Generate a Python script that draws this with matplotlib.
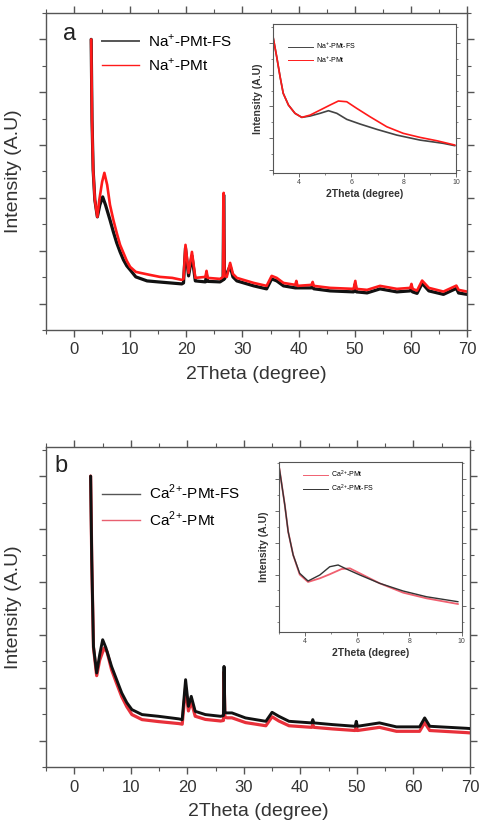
import matplotlib
matplotlib.use("Agg")
import matplotlib.pyplot as plt
from matplotlib.ticker import MultipleLocator, NullFormatter
from matplotlib.lines import Line2D

plt.rcParams['font.family'] = ['Liberation Sans', 'DejaVu Sans']
plt.rcParams['mathtext.fontset'] = 'custom'
plt.rcParams['mathtext.rm'] = 'Liberation Sans'

# ---------------- Panel a (Na+) main ----------------
na_fs_x = [3.05, 3.2, 3.4, 3.7, 4.15, 4.6, 5.1, 5.6, 6.4, 7.0, 7.6, 8.2, 8.8, 9.4, 10.0, 11.0, 13.0, 15.0,
           19.2, 19.5, 19.85, 20.4, 21.0, 21.6, 23.4, 23.6, 23.8, 26.0, 26.55, 26.65, 26.8, 27.8, 28.3, 29.0,
           32.0, 34.3, 35.2, 36.1, 37.3, 39.4, 42.3, 42.5, 42.7, 45.6, 49.8, 50.1, 50.3, 52.2, 54.5, 57.5,
           59.9, 60.1, 60.3, 61.1, 62.0, 63.2, 65.8, 68.1, 68.5, 70.0]
na_fs_y = [6000, 4477, 3530, 2963, 2641, 2868, 3019, 2868, 2584, 2357, 2149, 1978, 1827, 1713, 1637, 1505, 1429, 1410,
           1372, 1391, 2054, 1524, 1902, 1429, 1410, 1543, 1420, 1410, 1448, 3057, 1467, 1713, 1505, 1429,
           1335, 1278, 1467, 1429, 1335, 1297, 1297, 1354, 1280, 1240, 1221, 1372, 1221, 1202, 1278, 1221,
           1240, 1316, 1221, 1193, 1382, 1240, 1174, 1287, 1200, 1174]

na_x = [3.05, 3.2, 3.4, 3.7, 4.15, 4.5, 5.0, 5.4, 5.9, 6.4, 7.0, 7.6, 8.2, 8.8, 9.4, 10.0, 11.0, 11.8, 13.5,
        15.3, 17.5, 19.2, 19.5, 19.85, 20.4, 21.0, 21.6, 23.4, 23.6, 23.8, 26.0, 26.55, 26.65, 26.8, 27.2,
        27.8, 28.3, 29.0, 32.0, 34.3, 35.2, 36.1, 37.3, 39.4, 39.6, 39.8, 42.3, 42.5, 42.7, 45.6, 49.8,
        50.1, 50.3, 52.2, 54.5, 57.5, 59.9, 60.1, 60.3, 61.1, 62.0, 63.2, 65.8, 68.1, 68.5, 70.0]
na_y = [6000, 4477, 3530, 2963, 2641, 2963, 3303, 3474, 3246, 2868, 2584, 2338, 2111, 1959, 1808, 1694, 1600, 1581, 1543,
        1505, 1486, 1448, 1467, 2111, 1581, 1978, 1486, 1505, 1619, 1486, 1467, 1505, 3095, 1524, 1505,
        1770, 1562, 1486, 1391, 1335, 1524, 1486, 1391, 1354, 1429, 1335, 1354, 1410, 1335, 1297, 1278,
        1429, 1278, 1259, 1335, 1278, 1297, 1372, 1278, 1246, 1435, 1297, 1227, 1340, 1259, 1227]

# ---------------- Panel a inset ----------------
na_in_fs_x = [3.0, 3.14, 3.27, 3.39, 3.59, 3.84, 4.1, 4.42, 4.8, 5.12, 5.44, 5.82, 6.33, 6.97, 7.73, 8.62, 9.51, 9.96]
na_in_fs_y = [2079, 1827, 1575, 1366, 1218, 1114, 1063, 1080, 1114, 1147, 1114, 1038, 979, 912, 840, 777, 736, 706]
na_in_x = [3.0, 3.14, 3.27, 3.39, 3.59, 3.84, 4.1, 4.42, 4.8, 5.18, 5.5, 5.82, 6.2, 6.71, 7.35, 7.98, 8.62, 9.26, 9.96]
na_in_y = [2079, 1827, 1575, 1366, 1218, 1114, 1063, 1092, 1155, 1218, 1269, 1260, 1177, 1071, 945, 862, 811, 769, 714]

# ---------------- Panel b (Ca2+) main ----------------
ca_fs_x = [2.9, 3.1, 3.4, 3.97, 4.5, 5.03, 5.6, 6.6, 7.5, 8.4, 9.3, 10.2, 12.0, 14.9, 18.5, 19.1, 19.7, 20.2,
           20.7, 21.4, 23.2, 25.9, 26.4, 26.5, 26.65, 27.05, 27.9, 30.3, 33.9, 35.0, 36.2, 38.0, 42.0, 42.2,
           42.4, 45.7, 49.7, 49.9, 50.1, 54.0, 57.0, 61.1, 62.0, 62.9, 69.4, 70.0]
ca_fs_y = [6000, 4416, 2780, 2278, 2623, 2906, 2755, 2402, 2151, 1900, 1717, 1585, 1491, 1459, 1410, 1396, 2151, 1647,
           1836, 1553, 1491, 1459, 1472, 2402, 1528, 1523, 1523, 1428, 1364, 1534, 1459, 1364, 1334, 1396,
           1334, 1302, 1270, 1364, 1270, 1334, 1259, 1259, 1428, 1270, 1232, 1227]
ca_x = [2.9, 3.1, 3.4, 3.97, 4.5, 5.27, 5.8, 6.6, 7.5, 8.4, 9.3, 10.2, 12.0, 14.9, 18.5, 19.1, 19.7, 20.2,
        20.7, 21.4, 23.2, 25.9, 26.4, 26.5, 26.65, 27.05, 27.9, 30.3, 33.9, 35.0, 36.2, 38.0, 42.0, 42.2,
        42.4, 45.7, 49.7, 49.9, 50.1, 54.0, 57.0, 61.1, 62.0, 62.9, 69.4, 70.0]
ca_y = [6000, 4400, 2760, 2227, 2520, 2749, 2680, 2340, 2080, 1830, 1640, 1491, 1396, 1359, 1321, 1310, 2000, 1560,
        1740, 1460, 1400, 1370, 1380, 2300, 1440, 1430, 1430, 1340, 1280, 1450, 1370, 1280, 1250, 1300,
        1250, 1220, 1190, 1270, 1190, 1250, 1175, 1175, 1340, 1190, 1150, 1145]

# ---------------- Panel b inset ----------------
ca_in_fs_x = [3.02, 3.23, 3.36, 3.55, 3.8, 4.12, 4.57, 4.95, 5.27, 5.59, 6.1, 6.86, 7.76, 8.65, 9.86]
ca_in_fs_y = [2142, 1676, 1339, 1046, 815, 718, 794, 898, 920, 869, 794, 689, 592, 520, 457]
ca_in_x = [3.02, 3.23, 3.36, 3.55, 3.8, 4.12, 4.57, 4.95, 5.4, 5.72, 6.1, 6.86, 7.76, 8.65, 9.86]
ca_in_y = [2142, 1676, 1339, 1046, 800, 706, 752, 803, 869, 878, 815, 689, 571, 500, 428]

x_ticks = [0, 10, 20, 30, 40, 50, 60, 70]
inset_x_ticks = [4, 6, 8, 10]

RED = '#ff1a1a'
BLK = '#111111'
FRAME = '#555555'

fig = plt.figure(figsize=(4.79, 8.31), dpi=100)


def style_main(ax, ylim):
    ax.set_xlim(-5, 70)
    ax.set_ylim(*ylim)
    ax.set_xticks(x_ticks)
    ax.xaxis.set_minor_locator(MultipleLocator(5))
    ax.yaxis.set_major_locator(MultipleLocator(1000))
    ax.yaxis.set_minor_locator(MultipleLocator(500))
    ax.yaxis.set_major_formatter(NullFormatter())
    for s in ax.spines.values():
        s.set_color(FRAME)
        s.set_linewidth(1.0)
    ax.tick_params(axis='both', which='major', direction='out', length=5, width=1, color=FRAME,
                   labelsize=12, labelcolor='#333333', top=True)
    ax.tick_params(axis='both', which='minor', direction='out', length=3, width=0.8, color=FRAME,
                   top=True)
    ax.tick_params(axis='y', which='both', right=True)
    ax.tick_params(axis='x', which='major', pad=4)
    ax.set_xlabel('2Theta (degree)', fontsize=14, color='#333333', labelpad=6)
    ax.set_ylabel('Intensity (A.U)', fontsize=14, color='#333333')
    ax.yaxis.set_label_coords(-0.057, 0.5)


def style_inset(ax, ylim):
    ax.set_xlim(3, 10)
    ax.set_ylim(*ylim)
    ax.set_xticks(inset_x_ticks)
    ax.xaxis.set_minor_locator(MultipleLocator(1))
    ax.yaxis.set_major_locator(MultipleLocator(400))
    ax.yaxis.set_minor_locator(MultipleLocator(200))
    ax.yaxis.set_major_formatter(NullFormatter())
    for s in ax.spines.values():
        s.set_color(FRAME)
        s.set_linewidth(0.8)
    ax.tick_params(axis='both', which='major', direction='out', length=3, width=0.6, color=FRAME,
                   labelsize=5, labelcolor='#444444', pad=1.5, right=True)
    ax.tick_params(axis='both', which='minor', direction='out', length=1.5, width=0.5, color=FRAME, right=True)
    ax.set_xlabel('2Theta (degree)', fontsize=7.5, fontweight='bold', color='#333333', labelpad=2)
    ax.set_ylabel('Intensity (A.U)', fontsize=7.5, fontweight='bold', color='#333333', labelpad=2)


line_kw = dict(solid_joinstyle='round', solid_capstyle='round')

# ---- Panel a ----
axa = fig.add_axes([0.096, 0.6029, 0.879, 0.3815])
axa.plot(na_fs_x, na_fs_y, color=BLK, lw=2.3, **line_kw)
axa.plot(na_x, na_y, color=RED, lw=1.9, **line_kw)
style_main(axa, (500, 6500))
axa.text(0.04, 0.935, 'a', transform=axa.transAxes, fontsize=17, color='#222222', va='center')
ha = [Line2D([], [], color='#555555', lw=1.4), Line2D([], [], color=RED, lw=1.0)]
axa.legend(ha, [r'Na$^{+}$-PMt-FS', r'Na$^{+}$-PMt'], loc='upper left', bbox_to_anchor=(0.1, 0.98),
           frameon=False, fontsize=11, handlelength=2.4, handletextpad=0.6, labelspacing=0.45)

ina = fig.add_axes([0.570, 0.7918, 0.382, 0.1793])
ina.plot(na_in_fs_x, na_in_fs_y, color='#444444', lw=1.2, **line_kw)
ina.plot(na_in_x, na_in_y, color=RED, lw=1.2, **line_kw)
style_inset(ina, (362, 2239))
hia = [Line2D([], [], color='#444444', lw=0.7), Line2D([], [], color=RED, lw=0.7)]
ina.legend(hia, [r'Na$^{+}$-PMt-FS', r'Na$^{+}$-PMt'], loc='upper left', bbox_to_anchor=(0.05, 0.93),
           frameon=False, fontsize=5, handlelength=3.5, handletextpad=0.5, labelspacing=0.5)

# ---- Panel b ----
axb = fig.add_axes([0.096, 0.0770, 0.885, 0.3851])
axb.plot(ca_x, ca_y, color='#e8303a', lw=2.3, zorder=2, **line_kw)
axb.plot(ca_fs_x, ca_fs_y, color=BLK, lw=2.1, zorder=3, **line_kw)
style_main(axb, (500, 6550))
axb.text(0.02, 0.94, 'b', transform=axb.transAxes, fontsize=17, color='#222222', va='center')
hb = [Line2D([], [], color='#555555', lw=1.0), Line2D([], [], color='#e86070', lw=1.0)]
axb.legend(hb, [r'Ca$^{2}$$^{+}$-PMt-FS', r'Ca$^{2}$$^{+}$-PMt'], loc='upper left', bbox_to_anchor=(0.1, 0.93),
           frameon=False, fontsize=11, handlelength=2.5, handletextpad=0.6, labelspacing=0.45)

inb = fig.add_axes([0.582, 0.2395, 0.382, 0.2046])
inb.plot(ca_in_x, ca_in_y, color='#f06070', lw=1.3, **line_kw)
inb.plot(ca_in_fs_x, ca_in_fs_y, color='#333333', lw=1.0, **line_kw)
style_inset(inb, (76, 2218))
hib = [Line2D([], [], color='#f06070', lw=0.7), Line2D([], [], color='#333333', lw=0.7)]
inb.legend(hib, [r'Ca$^{2}$$^{+}$-PMt', r'Ca$^{2}$$^{+}$-PMt-FS'], loc='upper left', bbox_to_anchor=(0.1, 1.0),
           frameon=False, fontsize=5, handlelength=3.5, handletextpad=0.5, labelspacing=0.5)

fig.savefig('out.png', dpi=100)
